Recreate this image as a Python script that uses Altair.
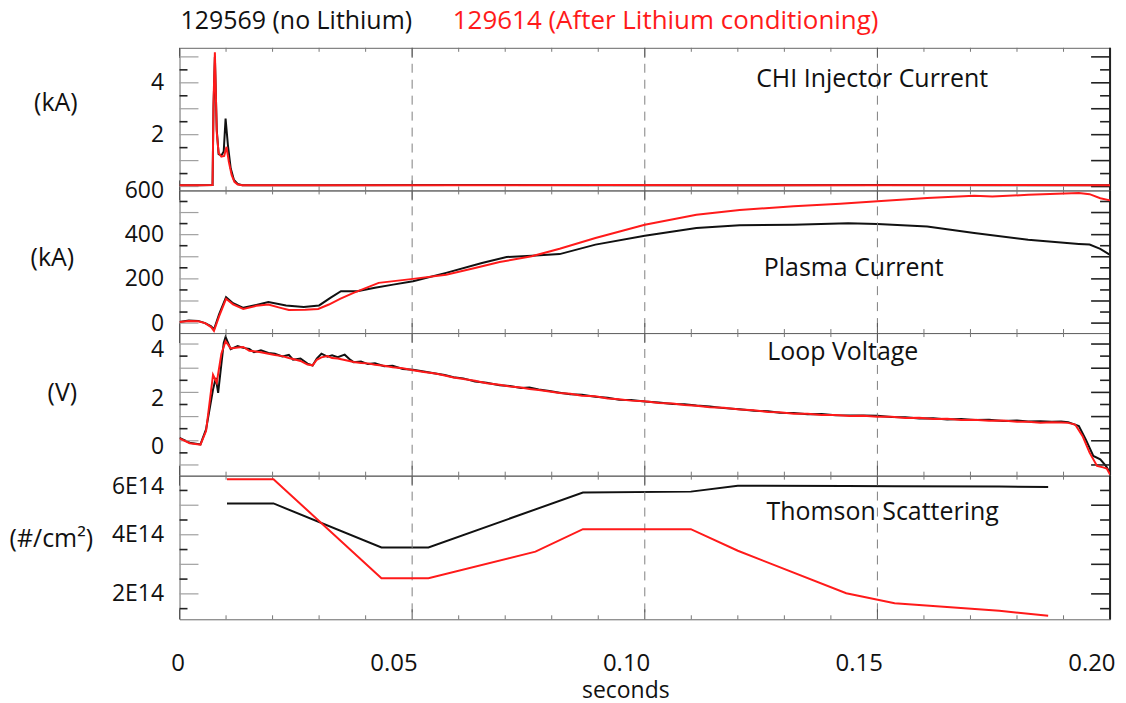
import altair as alt
import pandas as pd

FONT = "Open Sans"
INK = "#111111"
RED = "#ff1a1a"
W = 933
HEIGHTS = [143, 143, 143, 144]

# ---------------- time axis ----------------
x_major = [0.0, 0.05, 0.10, 0.15, 0.20]
x_minor = [0.01, 0.02, 0.03, 0.04, 0.06, 0.07, 0.08, 0.09, 0.11, 0.12, 0.13, 0.14,
           0.16, 0.17, 0.18, 0.19]
x_dashed = [0.05, 0.10, 0.15]
x_end = [0.20]

# ---------------- CHI injector current (kA) ----------------
chi_t_black = [0.0, 0.004, 0.0071, 0.0073, 0.0076, 0.0080, 0.0084, 0.0090, 0.0095, 0.0099,
               0.0104, 0.0110, 0.0117, 0.0125, 0.0135, 0.03, 0.06, 0.09, 0.12, 0.15, 0.18, 0.2]
chi_v_black = [0.05, 0.05, 0.06, 3.0, 5.0, 2.2, 1.25, 1.20, 1.35, 2.62,
               1.60, 0.70, 0.25, 0.10, 0.05, 0.05, 0.06, 0.05, 0.05, 0.06, 0.05, 0.05]
chi_t_red = [0.0, 0.004, 0.0071, 0.0073, 0.0076, 0.0080, 0.0084, 0.0090, 0.0096, 0.0101,
             0.0106, 0.0112, 0.0118, 0.0125, 0.0135, 0.03, 0.06, 0.09, 0.12, 0.15, 0.18, 0.2]
chi_v_red = [0.05, 0.05, 0.06, 3.2, 5.18, 2.1, 1.3, 1.15, 1.18, 1.53,
             0.95, 0.45, 0.18, 0.08, 0.05, 0.05, 0.05, 0.06, 0.05, 0.05, 0.06, 0.05]

# ---------------- Plasma current (kA) ----------------
ip_t_black = [0.0, 0.002, 0.004, 0.0055, 0.0068, 0.0074, 0.0085, 0.0100, 0.0115, 0.0137,
              0.0165, 0.0191, 0.0229, 0.0267, 0.0300, 0.0325, 0.0347, 0.0382, 0.0420, 0.0459,
              0.0502, 0.0573, 0.0650, 0.0703, 0.0757, 0.0817, 0.0894, 0.1000, 0.1111, 0.1204,
              0.1320, 0.1437, 0.1500, 0.1607, 0.1708, 0.1824, 0.1933, 0.1956, 0.1979, 0.2000]
ip_v_black = [5, 12, 10, 0, -15, -29, 40, 117, 90, 69,
              82, 95, 80, 73, 80, 115, 144, 144, 160, 174,
              189, 227, 272, 299, 305, 312, 355, 395, 430, 442,
              445, 452, 448, 437, 407, 377, 358, 355, 336, 309]
ip_t_red = [0.0, 0.002, 0.004, 0.0055, 0.0068, 0.0074, 0.0085, 0.0100, 0.0115, 0.0137,
            0.0165, 0.0191, 0.0215, 0.0235, 0.0270, 0.0298, 0.0321, 0.0345, 0.0374, 0.0428,
            0.0502, 0.0573, 0.0635, 0.0688, 0.0757, 0.0817, 0.0894, 0.1000, 0.1111, 0.1204,
            0.1320, 0.1420, 0.1500, 0.1607, 0.1708, 0.1747, 0.1824, 0.1933, 0.1956, 0.1979,
            0.2000]
ip_v_red = [5, 10, 8, 0, -18, -35, 30, 110, 85, 64,
            78, 84, 70, 59, 60, 64, 84, 110, 137, 182,
            200, 219, 249, 276, 302, 336, 385, 445, 490, 512,
            528, 540, 551, 566, 576, 573, 580, 588, 583, 565,
            555]

# ---------------- Loop voltage (V) ----------------
lv_t_black = [0.0000, 0.0022, 0.0045, 0.0057, 0.0072, 0.0078, 0.0083, 0.0095, 0.0099, 0.0110,
              0.0125, 0.0137, 0.0150, 0.0160, 0.0175, 0.0191, 0.0205, 0.0221, 0.0235, 0.0244,
              0.0260, 0.0275, 0.0286, 0.0295, 0.0305, 0.0318, 0.0328, 0.0340, 0.0355, 0.0365,
              0.0374, 0.0390, 0.0405, 0.0420, 0.0440, 0.0458, 0.0480, 0.0502, 0.0525, 0.0550,
              0.0570, 0.0589, 0.0610, 0.0635, 0.0660, 0.0688, 0.0710, 0.0734, 0.0752, 0.0772,
              0.0795, 0.0817, 0.0840, 0.0865, 0.0894, 0.0920, 0.0945, 0.0970, 0.1000, 0.1030,
              0.1060, 0.1085, 0.1111, 0.1140, 0.1170, 0.1204, 0.1235, 0.1265, 0.1290, 0.1320,
              0.1350, 0.1380, 0.1410, 0.1440, 0.1470, 0.1500, 0.1530, 0.1560, 0.1590, 0.1620,
              0.1650, 0.1680, 0.1708, 0.1740, 0.1770, 0.1800, 0.1824, 0.1850, 0.1875, 0.1895,
              0.1910, 0.1933, 0.1948, 0.1964, 0.1979, 0.1991, 0.2000]
lv_v_black = [0.12, -0.08, -0.15, 0.47, 2.12, 2.60, 1.98, 4.04, 4.29, 3.79,
              3.92, 3.84, 3.80, 3.66, 3.74, 3.63, 3.60, 3.49, 3.55, 3.35,
              3.40, 3.19, 3.11, 3.40, 3.60, 3.48, 3.53, 3.46, 3.56, 3.38,
              3.25, 3.28, 3.17, 3.20, 3.08, 3.10, 2.97, 2.94, 2.86, 2.78,
              2.72, 2.63, 2.58, 2.45, 2.40, 2.30, 2.26, 2.18, 2.20, 2.12,
              2.06, 1.99, 1.92, 1.90, 1.82, 1.78, 1.70, 1.69, 1.62, 1.58,
              1.52, 1.51, 1.46, 1.42, 1.35, 1.30, 1.24, 1.22, 1.16, 1.15,
              1.10, 1.11, 1.06, 1.05, 1.04, 1.03, 0.98, 0.97, 0.92, 0.93,
              0.88, 0.90, 0.86, 0.87, 0.82, 0.84, 0.80, 0.81, 0.79, 0.80,
              0.77, 0.61, 0.05, -0.63, -0.77, -1.04, -1.32]
lv_t_red = [0.0000, 0.0022, 0.0045, 0.0057, 0.0072, 0.0080, 0.0090, 0.0099, 0.0110,
            0.0125, 0.0137, 0.0150, 0.0160, 0.0175, 0.0191, 0.0205, 0.0221, 0.0235, 0.0244,
            0.0260, 0.0275, 0.0286, 0.0295, 0.0305, 0.0318, 0.0328, 0.0340, 0.0355, 0.0365,
            0.0374, 0.0390, 0.0405, 0.0420, 0.0440, 0.0458, 0.0480, 0.0502, 0.0525, 0.0550,
            0.0570, 0.0589, 0.0610, 0.0635, 0.0660, 0.0688, 0.0710, 0.0734, 0.0752, 0.0772,
            0.0795, 0.0817, 0.0840, 0.0865, 0.0894, 0.0920, 0.0945, 0.0970, 0.1000, 0.1030,
            0.1060, 0.1085, 0.1111, 0.1140, 0.1170, 0.1204, 0.1235, 0.1265, 0.1290, 0.1320,
            0.1350, 0.1380, 0.1410, 0.1440, 0.1470, 0.1500, 0.1530, 0.1560, 0.1590, 0.1620,
            0.1650, 0.1680, 0.1708, 0.1740, 0.1770, 0.1800, 0.1824, 0.1850, 0.1875, 0.1895,
            0.1910, 0.1925, 0.1941, 0.1956, 0.1972, 0.1985, 0.1993, 0.2000]
lv_v_red = [0.10, -0.10, -0.16, 0.40, 2.73, 2.40, 3.60, 4.12, 3.82,
            3.86, 3.88, 3.72, 3.70, 3.66, 3.60, 3.55, 3.50, 3.42, 3.38,
            3.30, 3.15, 3.12, 3.35, 3.45, 3.50, 3.42, 3.40, 3.34, 3.30,
            3.26, 3.22, 3.20, 3.14, 3.10, 3.04, 3.00, 2.92, 2.84, 2.78,
            2.70, 2.62, 2.55, 2.48, 2.38, 2.32, 2.24, 2.20, 2.14, 2.10,
            2.04, 1.98, 1.94, 1.86, 1.84, 1.75, 1.72, 1.66, 1.63, 1.56,
            1.54, 1.48, 1.45, 1.39, 1.37, 1.29, 1.26, 1.19, 1.18, 1.12,
            1.12, 1.07, 1.07, 1.02, 1.03, 0.99, 0.99, 0.94, 0.95, 0.90,
            0.91, 0.86, 0.87, 0.83, 0.84, 0.79, 0.79, 0.75, 0.77, 0.76,
            0.74, 0.67, 0.19, -0.49, -1.04, -1.10, -1.15, -1.40]

# ---------------- Thomson scattering (units of 1E14 /cm^2) ----------------
ts_t_black = [0.0102, 0.0202, 0.0434, 0.0535, 0.0867, 0.1099, 0.1200, 0.1433, 0.1537, 0.1762, 0.1867]
ts_v_black = [5.06, 5.06, 3.57, 3.57, 5.43, 5.46, 5.66, 5.65, 5.64, 5.63, 5.62]
ts_t_red = [0.0102, 0.0202, 0.0434, 0.0535, 0.0765, 0.0867, 0.1099, 0.1200, 0.1433, 0.1537, 0.1762, 0.1867]
ts_v_red = [5.88, 5.88, 2.53, 2.53, 3.43, 4.19, 4.19, 3.46, 2.02, 1.68, 1.43, 1.26]

XSCALE = alt.Scale(domain=[0, 0.2], nice=False, zero=False)


def yaxis(values, title, tx, ty, label_expr=None, flush=False, offset=0):
    kw = dict(values=values, title=title, ticks=False, tickSize=0, domain=False, grid=False,
              labelFontSize=23, labelPadding=16, labelOverlap=False, labelFlush=flush,
              labelColor=INK, labelFont=FONT, labelOffset=offset,
              titleAngle=0, titleFontSize=25, titleFontWeight="normal", titleFont=FONT,
              titleColor=INK, titleX=tx, titleY=ty, titleAlign="center", titleBaseline="middle")
    if label_expr:
        kw["labelExpr"] = label_expr
    return alt.Axis(**kw)


XAXIS = alt.Axis(values=x_major, title="seconds", ticks=False, tickSize=0, domain=False, grid=False,
                 labelExpr="datum.value == 0 ? '0' : format(datum.value, '.2f')",
                 labelFontSize=24, labelFont=FONT, labelColor=INK, labelAlign="right", labelOffset=5,
                 labelPadding=32, labelBaseline="top", labelFlush=False, labelOverlap=False,
                 titleFontSize=23, titleFontWeight="normal", titleFont=FONT, titleColor=INK,
                 titleX=447, titleY=78, titleAlign="center", titleBaseline="alphabetic")


def panel(h, tb, vb, tr, vr, ydom, axis, long_ticks, short_ticks, label, lx, ly, xaxis=None, extra=()):
    ysc = alt.Scale(domain=ydom, nice=False, zero=False)
    xs = alt.X("x:Q", scale=XSCALE, axis=None)
    layers = []
    layers.append(alt.Chart(pd.DataFrame({"x": x_dashed})).mark_rule(
        color="#808080", strokeDash=[9, 7], strokeWidth=1).encode(x=xs))
    mn = alt.Chart(pd.DataFrame({"x": x_minor}))
    mj = alt.Chart(pd.DataFrame({"x": x_major}))
    layers.append(mn.mark_rule(color="#777", strokeWidth=1).encode(x=xs, y=alt.value(h), y2=alt.value(h - 4)))
    layers.append(mn.mark_rule(color="#777", strokeWidth=1).encode(x=xs, y=alt.value(0), y2=alt.value(4)))
    layers.append(mj.mark_rule(color="#555", strokeWidth=1).encode(x=xs, y=alt.value(h), y2=alt.value(h - 10)))
    layers.append(mj.mark_rule(color="#555", strokeWidth=1).encode(x=xs, y=alt.value(0), y2=alt.value(10)))
    yl = alt.Chart(pd.DataFrame({"y": long_ticks}))
    ys = alt.Chart(pd.DataFrame({"y": short_ticks}))
    yenc = alt.Y("y:Q", scale=ysc, axis=None)
    layers.append(yl.mark_rule(color="#a0a0a0", strokeWidth=1.2).encode(y=yenc, x=alt.value(0), x2=alt.value(19)))
    layers.append(ys.mark_rule(color="#222", strokeWidth=1.6).encode(y=yenc, x=alt.value(0), x2=alt.value(8)))
    layers.append(yl.mark_rule(color="#222", strokeWidth=1.6).encode(y=yenc, x=alt.value(W - 19), x2=alt.value(W)))
    layers.append(ys.mark_rule(color="#222", strokeWidth=1.6).encode(y=yenc, x=alt.value(W - 10), x2=alt.value(W)))
    layers.append(alt.Chart(pd.DataFrame({"x": x_end})).mark_rule(color="#222", strokeWidth=2).encode(x=xs))
    black = alt.Chart(pd.DataFrame({"t": tb, "v": vb})).mark_line(color=INK, strokeWidth=2, clip=True).encode(
        x=alt.X("t:Q", scale=XSCALE, axis=xaxis),
        y=alt.Y("v:Q", scale=ysc, axis=axis))
    red = alt.Chart(pd.DataFrame({"t": tr, "v": vr})).mark_line(color=RED, strokeWidth=2, clip=True).encode(
        x=alt.X("t:Q", scale=XSCALE, axis=None),
        y=alt.Y("v:Q", scale=ysc, axis=None))
    layers = [black] + layers + [red]
    layers.append(alt.Chart(pd.DataFrame({"s": [label]})).mark_text(
        font=FONT, fontSize=25, color=INK, align="center", baseline="alphabetic").encode(
        text="s:N", x=alt.value(lx), y=alt.value(ly)))
    layers.extend(extra)
    return alt.layer(*layers).resolve_axis(x="independent", y="independent").properties(width=W, height=h)


titles = [
    alt.Chart(pd.DataFrame({"s": ["129569 (no Lithium)"]})).mark_text(
        font=FONT, fontSize=25, color=INK, align="left", baseline="alphabetic").encode(
        text="s:N", x=alt.value(1), y=alt.value(-19)),
    alt.Chart(pd.DataFrame({"s": ["129614 (After Lithium conditioning)"]})).mark_text(
        font=FONT, fontSize=26, color=RED, align="left", baseline="alphabetic").encode(
        text="s:N", x=alt.value(274), y=alt.value(-19)),
]

p1 = panel(HEIGHTS[0], chi_t_black, chi_v_black, chi_t_red, chi_v_red, [-0.15, 5.35],
           yaxis([2, 4], "(kA)", -124.5, 55),
           [0, 1, 2, 3, 4, 5], [0.5, 1.5, 2.5, 3.5, 4.5],
           "CHI Injector Current", 694.5, 39, extra=titles)
p2 = panel(HEIGHTS[1], ip_t_black, ip_v_black, ip_t_red, ip_v_red, [-45, 600],
           yaxis([0, 200, 400, 600], "(kA)", -128, 67),
           [0, 100, 200, 300, 400, 500], [50, 150, 250, 350, 450, 550],
           "Plasma Current", 676, 86)
p3 = panel(HEIGHTS[2], lv_t_black, lv_v_black, lv_t_red, lv_v_red, [-1.443, 4.454],
           yaxis([0, 2, 4], "(V)", -118, 59.7, offset=6),
           [-1, 0, 1, 2, 3, 4], [-0.5, 0.5, 1.5, 2.5, 3.5],
           "Loop Voltage", 665, 27.5)
p4 = panel(HEIGHTS[3], ts_t_black, ts_v_black, ts_t_red, ts_v_red, [1.14, 6.0],
           yaxis([2, 4, 6], "(#/cm²)", -129, 63, label_expr="datum.value + 'E14'", flush=True),
           [2, 3, 4, 5], [1.5, 2.5, 3.5, 4.5, 5.5],
           "Thomson Scattering", 705, 44, xaxis=XAXIS)

chart = alt.vconcat(p1, p2, p3, p4, spacing=0, bounds="flush").resolve_scale(
    y="independent"
).properties(
    padding={"left": 8, "top": 6, "right": 10, "bottom": 0},
    background="white",
).configure_view(stroke="#666", strokeWidth=1)

chart.save("out.html", embed_options={"renderer": "svg", "actions": False})
